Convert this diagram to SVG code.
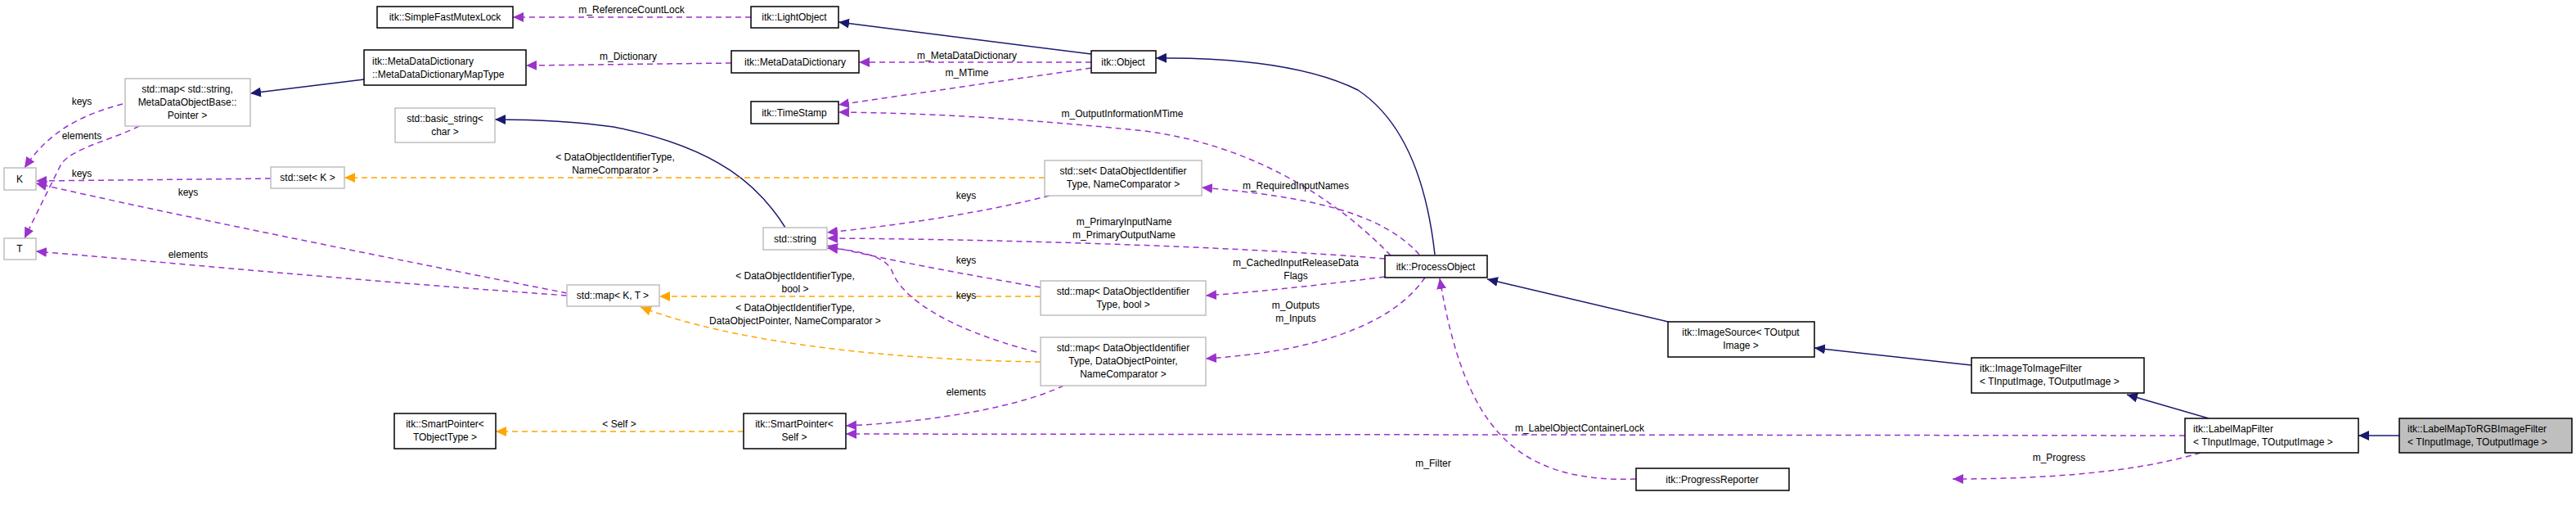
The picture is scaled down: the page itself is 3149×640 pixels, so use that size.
<svg xmlns="http://www.w3.org/2000/svg" width="3149" height="640" viewBox="0 0 3149 640">
<style>
text{font-family:"Liberation Sans",Arial,sans-serif;font-size:12px;fill:#000}
.n rect{fill:#fff;stroke:#000;stroke-width:1.5}
.g rect{fill:#fff;stroke:#bfbfbf;stroke-width:1.5}
.c{text-anchor:middle}
.inh{fill:none;stroke:#191970;stroke-width:1.5;marker-end:url(#an)}
.use{fill:none;stroke:#9a32cd;stroke-width:1.5;stroke-dasharray:7,5;marker-end:url(#ap)}
.tpl{fill:none;stroke:#ffa500;stroke-width:1.5;stroke-dasharray:7,5;marker-end:url(#ao)}
</style>
<defs>
<marker id="an" markerUnits="userSpaceOnUse" markerWidth="14" markerHeight="12" refX="13" refY="6" orient="auto"><path d="M0,0 L13,6 L0,12 Z" fill="#191970"/></marker>
<marker id="ap" markerUnits="userSpaceOnUse" markerWidth="14" markerHeight="12" refX="13" refY="6" orient="auto"><path d="M0,0 L13,6 L0,12 Z" fill="#9a32cd"/></marker>
<marker id="ao" markerUnits="userSpaceOnUse" markerWidth="14" markerHeight="12" refX="13" refY="6" orient="auto"><path d="M0,0 L13,6 L0,12 Z" fill="#ffa500"/></marker>
</defs>
<rect width="3149" height="640" fill="#fff"/>
<g id="edges">
<path class="inh" d="M1334,66 L1025,27"/>
<path class="inh" d="M445,97 L306,114"/>
<path class="inh" d="M960,278 C930,230 880,180 750,155 C700,148 650,146 605,146"/>
<path class="inh" d="M1754,311 C1745,230 1720,150 1660,110 C1590,75 1480,70 1413,71"/>
<path class="inh" d="M2039,393 L1818,341"/>
<path class="inh" d="M2410,446 L2218,425"/>
<path class="inh" d="M2700,511 L2600,482"/>
<path class="inh" d="M2933,532 L2883,532"/>
<path class="use" d="M918,21 L627,21"/>
<path class="use" d="M894,77 L643,80"/>
<path class="use" d="M1334,76 L1050,76"/>
<path class="use" d="M1334,83 L1025,128"/>
<path class="use" d="M1700,312 C1650,260 1550,180 1400,160 C1200,140 1100,138 1025,137"/>
<path class="use" d="M1735,311 C1690,260 1600,240 1469,229"/>
<path class="use" d="M1693,316 C1500,300 1200,292 1011,291"/>
<path class="use" d="M1693,338 C1600,350 1520,358 1474,361"/>
<path class="use" d="M1742,339 C1700,400 1600,430 1474,438"/>
<path class="use" d="M2000,585 C1850,590 1790,520 1760,340"/>
<path class="use" d="M2671,532 L1034,530"/>
<path class="use" d="M2690,553 C2600,580 2480,585 2387,585"/>
<path class="use" d="M150,127 C100,140 60,160 30,205"/>
<path class="use" d="M170,154 C140,170 90,180 75,200 C60,230 45,260 30,291"/>
<path class="use" d="M331,218 L44,221"/>
<path class="use" d="M693,358 C500,320 200,260 44,224"/>
<path class="use" d="M693,361 C400,340 200,320 44,307"/>
<path class="tpl" d="M1277,217 L421,217"/>
<path class="use" d="M1283,239 C1200,260 1100,275 1011,284"/>
<path class="use" d="M1272,351 C1150,330 1060,312 1011,300"/>
<path class="tpl" d="M1272,362 L806,362"/>
<path class="use" d="M1267,430 C1150,400 1100,360 1090,330 C1080,310 1040,305 1011,303"/>
<path class="tpl" d="M1272,442 C1100,440 900,420 783,375"/>
<path class="use" d="M1300,471 C1250,495 1150,515 1034,520"/>
<path class="tpl" d="M909,527 L606,527"/>
<text class="c" x="772" y="16">m_ReferenceCountLock</text>
<text class="c" x="768" y="73">m_Dictionary</text>
<text class="c" x="1182" y="72">m_MetaDataDictionary</text>
<text class="c" x="1182" y="93">m_MTime</text>
<text class="c" x="1372" y="143">m_OutputInformationMTime</text>
<text class="c" x="1584" y="231">m_RequiredInputNames</text>
<text class="c" x="1374" y="275">m_PrimaryInputName</text>
<text class="c" x="1374" y="291">m_PrimaryOutputName</text>
<text class="c" x="1584" y="325">m_CachedInputReleaseData</text>
<text class="c" x="1584" y="341">Flags</text>
<text class="c" x="1584" y="377">m_Outputs</text>
<text class="c" x="1584" y="393">m_Inputs</text>
<text class="c" x="1752" y="570">m_Filter</text>
<text class="c" x="1931" y="527">m_LabelObjectContainerLock</text>
<text class="c" x="2517" y="563">m_Progress</text>
<text class="c" x="100" y="128">keys</text>
<text class="c" x="100" y="170">elements</text>
<text class="c" x="100" y="216">keys</text>
<text class="c" x="230" y="239">keys</text>
<text class="c" x="230" y="315">elements</text>
<text class="c" x="752" y="196">&lt; DataObjectIdentifierType,</text>
<text class="c" x="752" y="212">NameComparator &gt;</text>
<text class="c" x="1181" y="243">keys</text>
<text class="c" x="1181" y="322">keys</text>
<text class="c" x="972" y="341">&lt; DataObjectIdentifierType,</text>
<text class="c" x="972" y="357">bool &gt;</text>
<text class="c" x="1181" y="365">keys</text>
<text class="c" x="972" y="380">&lt; DataObjectIdentifierType,</text>
<text class="c" x="972" y="396">DataObjectPointer, NameComparator &gt;</text>
<text class="c" x="1181" y="483">elements</text>
<text class="c" x="757" y="522">&lt; Self &gt;</text>
</g>
<g id="SimpleFastMutexLock" class="n"><rect x="461" y="8" width="166" height="26"/><text class="c" x="544" y="25">itk::SimpleFastMutexLock</text></g>
<g id="LightObject" class="n"><rect x="918" y="8" width="107" height="26"/><text class="c" x="971" y="25">itk::LightObject</text></g>
<g id="MDDMapType" class="n"><rect x="445" y="61" width="198" height="43"/><text x="455" y="79">itk::MetaDataDictionary</text><text x="455" y="95">::MetaDataDictionaryMapType</text></g>
<g id="MetaDataDictionary" class="n"><rect x="894" y="62" width="156" height="27"/><text class="c" x="972" y="80">itk::MetaDataDictionary</text></g>
<g id="Object" class="n"><rect x="1334" y="62" width="79" height="27"/><text class="c" x="1373" y="80">itk::Object</text></g>
<g id="TimeStamp" class="n"><rect x="918" y="124" width="107" height="27"/><text class="c" x="971" y="142">itk::TimeStamp</text></g>
<g id="MapStringMeta" class="g"><rect x="153" y="96" width="153" height="58"/><text class="c" x="229" y="113">std::map&lt; std::string,</text><text class="c" x="229" y="129">MetaDataObjectBase::</text><text class="c" x="229" y="145">Pointer &gt;</text></g>
<g id="BasicString" class="g"><rect x="483" y="132" width="122" height="42"/><text class="c" x="544" y="149">std::basic_string&lt;</text><text class="c" x="544" y="165">char &gt;</text></g>
<g id="K" class="g"><rect x="5" y="205" width="39" height="27"/><text class="c" x="24" y="223">K</text></g>
<g id="T" class="g"><rect x="5" y="291" width="39" height="26"/><text class="c" x="24" y="308">T</text></g>
<g id="SetK" class="g"><rect x="331" y="204" width="90" height="26"/><text class="c" x="376" y="221">std::set&lt; K &gt;</text></g>
<g id="SetDOI" class="g"><rect x="1277" y="196" width="192" height="43"/><text class="c" x="1373" y="213">std::set&lt; DataObjectIdentifier</text><text class="c" x="1373" y="229">Type, NameComparator &gt;</text></g>
<g id="String" class="g"><rect x="933" y="278" width="78" height="27"/><text class="c" x="972" y="296">std::string</text></g>
<g id="MapKT" class="g"><rect x="693" y="348" width="113" height="26"/><text class="c" x="749" y="365">std::map&lt; K, T &gt;</text></g>
<g id="MapDOIBool" class="g"><rect x="1272" y="343" width="202" height="42"/><text class="c" x="1373" y="360">std::map&lt; DataObjectIdentifier</text><text class="c" x="1373" y="376">Type, bool &gt;</text></g>
<g id="MapDOIPtr" class="g"><rect x="1272" y="412" width="202" height="59"/><text class="c" x="1373" y="429">std::map&lt; DataObjectIdentifier</text><text class="c" x="1373" y="445">Type, DataObjectPointer,</text><text class="c" x="1373" y="461">NameComparator &gt;</text></g>
<g id="SmartPointerT" class="n"><rect x="482" y="505" width="124" height="43"/><text class="c" x="544" y="522">itk::SmartPointer&lt;</text><text class="c" x="544" y="538">TObjectType &gt;</text></g>
<g id="SmartPointerSelf" class="n"><rect x="909" y="505" width="125" height="43"/><text class="c" x="971" y="522">itk::SmartPointer&lt;</text><text class="c" x="971" y="538">Self &gt;</text></g>
<g id="ProcessObject" class="n"><rect x="1693" y="312" width="125" height="27"/><text class="c" x="1755" y="330">itk::ProcessObject</text></g>
<g id="ImageSource" class="n"><rect x="2039" y="393" width="179" height="43"/><text class="c" x="2128" y="410">itk::ImageSource&lt; TOutput</text><text class="c" x="2128" y="426">Image &gt;</text></g>
<g id="ImageToImageFilter" class="n"><rect x="2410" y="437" width="211" height="43"/><text x="2420" y="454">itk::ImageToImageFilter</text><text x="2420" y="470">&lt; TInputImage, TOutputImage &gt;</text></g>
<g id="LabelMapFilter" class="n"><rect x="2671" y="511" width="212" height="42"/><text x="2681" y="528">itk::LabelMapFilter</text><text x="2681" y="544">&lt; TInputImage, TOutputImage &gt;</text></g>
<g id="LabelMapToRGB" class="n"><rect x="2933" y="511" width="211" height="42" style="fill:#bfbfbf"/><text x="2943" y="528">itk::LabelMapToRGBImageFilter</text><text x="2943" y="544">&lt; TInputImage, TOutputImage &gt;</text></g>
<g id="ProgressReporter" class="n"><rect x="2000" y="572" width="187" height="27"/><text class="c" x="2093" y="590">itk::ProgressReporter</text></g>
</svg>
